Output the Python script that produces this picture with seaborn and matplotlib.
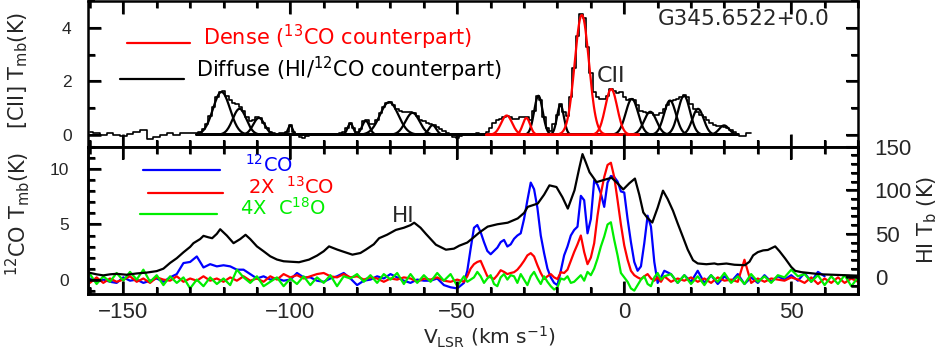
import numpy as np
import matplotlib
matplotlib.use("Agg")
import matplotlib.pyplot as plt
import seaborn as sns
from matplotlib.ticker import MultipleLocator

# ---- [CII] spectrum ----
cii_vel = list(range(-160, -128, 2)) + list(range(-128, 39))
cii_tmb = [0.1, 0.05, 0.0, 0.05, 0.0, -0.05, 0.02, 0.1, 0.18, -0.15,
           -0.1, 0.0, 0.05, -0.02, 0.05, 0.05,
           # -128 .. 38, 1 km/s
           0.05, 0.1, 0.2, 0.4, 0.7, 1.05, 1.4, 1.6, 1.62, 1.45,
           1.3, 1.2, 1.15, 1.05, 0.9, 0.65, 0.5, 0.55, 0.65, 0.62,
           0.45, 0.25, 0.1, 0.05, 0.0, 0.05, 0.05, 0.12, 0.38, 0.12,
           0.0, -0.08, -0.12, -0.05, 0.0, 0.0, 0.02, 0.0, 0.0, 0.0,
           0.0, 0.0, 0.02, 0.05, 0.1, 0.25, 0.45, 0.25, 0.1, 0.2,
           0.5, 0.55, 0.4, 0.4, 0.55, 0.8, 1.05, 1.2, 1.22, 1.1,
           0.95, 0.9, 0.85, 0.85, 0.85, 0.82, 0.7, 0.55, 0.5, 0.45,
           0.4, 0.38, 0.3, 0.2, 0.15, 0.05, 0.0, -0.1, -0.12, -0.05,
           0.0, -0.02, 0.0, 0.02, 0.05, 0.02, 0.0, 0.1, 0.25, 0.45,
           0.55, 0.6, 0.65, 0.7, 0.68, 0.6, 0.6, 0.65, 0.68, 0.65,
           0.55, 0.9, 1.45, 1.3, 0.65, 0.25, 0.15, 0.4, 0.75, 1.15,
           0.85, 0.7, 1.4, 2.5, 3.7, 4.5, 4.35, 3.3, 2.3, 1.6,
           1.4, 1.35, 1.35, 1.45, 1.7, 1.65, 1.55, 1.6, 1.4, 1.3,
           1.35, 1.3, 1.1, 0.9, 0.85, 0.8, 0.8, 0.75, 0.72, 0.8,
           0.95, 1.1, 1.25, 1.3, 1.35, 1.4, 1.48, 1.4, 1.15, 0.95,
           0.85, 0.75, 0.65, 0.55, 0.45, 0.38, 0.33, 0.32, 0.3, 0.25,
           0.18, 0.12, 0.02, -0.05, -0.03, 0.05, 0.07]

# Gaussian components fitted to [CII]: centre (km/s), peak (K), FWHM (km/s)
diffuse_center = [-120.6, -115.2, -109.4, -100.0, -82.0, -77.4, -70.4, -63.4, -57.4,
                  -25.7, -19.1, 2.3, 7.8, 13.7, 17.9, 22.1, 29.9]
diffuse_peak = [1.6, 0.97, 0.63, 0.35, 0.42, 0.52, 1.22, 0.82, 0.36,
                1.46, 1.12, 1.34, 0.86, 1.28, 1.46, 0.97, 0.35]
diffuse_fwhm = [6.0, 4.8, 4.0, 1.6, 2.0, 2.6, 6.5, 5.0, 2.6,
                3.0, 2.4, 4.4, 4.4, 4.2, 4.2, 4.0, 3.5]
dense_center = [-35.2, -29.3, -12.7, -3.9]
dense_peak = [0.72, 0.63, 4.48, 1.71]
dense_fwhm = [3.9, 2.6, 5.0, 4.2]

# ---- CO spectra ----
co_vel = list(range(-160, -48, 2)) + list(range(-48, 13)) + list(range(14, 71, 2))
co12 = [0.1, -0.2, 0.0, -0.2, -0.3, 0.2, -0.1, 0.0, -0.3, -0.1,
        0.1, -0.2, 0.2, 0.5, 1.5, 1.6, 2.1, 1.1, 1.4, 1.2,
        1.3, 1.2, 0.9, 0.9, 0.5, 0.1, 0.3, 0.0, 0.1, -0.1,
        0.0, 0.6, 0.2, 0.2, -0.1, -0.2, 0.1, 0.3, 0.6, 0.1,
        -0.5, -0.1, 0.0, 0.3, 0.1, 0.5, 0.2, -0.1, -0.3, 0.0,
        -0.1, -0.1, 0.1, -0.5, -0.7, -0.8,
        # -48 .. 12, 1 km/s
        -0.3, 0.8, 2.8, 4.7, 4.95, 4.3, 3.4, 2.6, 2.3, 2.6,
        2.9, 3.4, 3.6, 3.0, 3.2, 3.7, 4.0, 4.2, 5.5, 7.2,
        8.8, 8.2, 6.5, 4.0, 2.4, 1.0, 0.2, -0.3, -0.5, 0.8,
        2.2, 3.0, 4.0, 4.5, 4.8, 7.6, 7.2, 4.2, 5.5, 9.0,
        8.6, 7.8, 6.6, 8.8, 9.4, 9.3, 8.9, 8.0, 7.9, 5.5,
        3.4, 1.6, 0.8, 1.2, 3.3, 5.8, 4.8, 1.6, -0.3, 0.2,
        0.8,
        # 14 .. 60
        0.5, -0.3, 0.4, -0.2, 0.8, -0.3, 0.4, -0.4, 0.3, -0.2,
        0.5, -0.4, 0.2, -0.3, 0.4, -0.2, 0.3, 0.0, 0.4, -0.1,
        0.6, -0.2, 0.7, 0.3]
co13_x2 = [-0.3, 0.2, -0.3, 0.1, -0.2, 0.0, 0.3, -0.2, 0.1, -0.3,
           0.2, 0.0, -0.1, 0.3, -0.2, 0.1, -0.1, 0.3, -0.1, 0.1,
           -0.2, 0.2, -0.1, 0.3, -0.1, 0.1, -0.2, 0.3, 0.0, 0.5,
           0.2, 0.4, 0.1, 0.3, 0.5, 0.6, 0.3, 0.2, 0.5, 0.2,
           0.3, 0.0, 0.2, 0.1, -0.2, 0.1, 0.0, 0.2, 0.1, -0.2,
           0.1, 0.0, 0.2, -0.1, -0.2, 0.0,
           # -48 .. 12
           -0.2, 0.3, 1.0, 1.4, 1.6, 1.7, 1.0, 0.3, 0.2, 0.05,
           0.4, 0.85, 0.7, 0.5, 0.6, 0.67, 0.9, 1.27, 1.7, 2.2,
           2.4, 2.1, 1.3, 0.6, 0.05, 0.3, 0.5, 0.2, 0.05, 0.67,
           0.6, 0.9, 1.7, 2.5, 3.2, 4.0, 2.5, 1.4, 2.0, 3.3,
           5.8, 7.8, 9.3, 10.4, 10.6, 9.3, 7.2, 5.0, 3.1, 1.8,
           0.8, 0.4, 0.2, 0.05, 0.3, 0.5, 0.1, -0.1, 0.2, -0.2,
           0.3,
           # 14 .. 70
           -0.2, 0.1, -0.1, 0.2, -0.2, 0.1, -0.3, 0.2, -0.1, 0.0,
           -0.2, 1.8, -0.3, 0.1, -0.2, 0.1, 0.0, -0.1, 0.2, 0.0,
           -0.3, 0.2, -0.4, 0.1, -0.3, 0.2, -0.3, 0.1, -0.2]
c18o_x4 = [0.5, -0.4, 0.3, -0.2, 0.6, -0.1, 0.7, 0.0, 0.9, -0.2,
           0.4, -0.5, 0.3, -0.3, 0.2, -0.8, 0.0, -0.6, 0.2, -0.4,
           0.1, -0.5, 0.9, 0.2, -0.3, 0.3, -0.6, -0.2, 0.2, -0.6,
           0.1, -0.4, 0.3, -0.5, 0.2, -0.3, 0.4, -0.6, 0.3, 0.1,
           0.5, -0.2, 0.4, -0.3, 0.5, 0.0, 0.6, -0.4, 0.5, -0.3,
           0.4, -0.2, 0.6, -0.1, 0.5, -0.6,
           # -48 .. 12
           0.3, -0.2, 0.0, 0.2, 0.7, 0.3, -0.3, 0.1, 0.4, -0.4,
           -0.6, 0.2, 0.5, 0.0, 0.4, 0.3, -0.3, 0.5, 0.0, -0.5,
           0.3, 0.7, 0.1, -0.4, 0.3, -0.2, -0.6, -0.9, -0.7, 0.1,
           0.0, 0.3, -0.3, -0.2, 0.1, 0.4, -0.1, 0.7, 0.4, 1.0,
           1.9, 3.0, 3.9, 5.0, 5.2, 3.6, 2.2, 0.6, 0.2, -0.2,
           -0.8, -1.0, -0.5, 0.0, 0.3, -0.4, -0.6, 0.2, 0.6, 0.0,
           0.3,
           # 14 .. 70
           0.5, -0.3, 0.4, -0.4, 0.3, -0.5, 0.4, -0.2, 0.6, -0.3,
           0.3, -0.4, 0.5, -0.2, 0.3, -0.3, 0.4, 0.2, 0.9, 0.3,
           0.5, -0.2, 0.4, -0.5, 0.3, -0.4, 0.4, -0.6, 0.2]

# ---- HI spectrum (right axis) ----
hi_vel = [-161, -158, -156, -154, -152, -149, -146, -143, -140, -138,
          -136, -134, -132, -130, -129, -127, -126, -124.5, -123.4, -122,
          -121, -119, -117, -115, -113.4, -112, -110, -108, -106, -104,
          -102, -100, -97.4, -94.4, -92, -90, -88.4, -86, -84.4, -81.4,
          -79, -77.4, -75, -73.4, -71, -68.4, -66, -64, -62.9, -61,
          -59.4, -56.4, -53.4, -51, -49.4, -47, -45.4, -43.4, -40.9, -38,
          -34.9, -31.9, -30, -28.9, -25.9, -24, -22.4, -20.3, -18.5, -16.9,
          -14.9, -13.5, -12.5, -11.5, -10.4, -8.3, -6, -3.8, -2, -0.3,
          1.5, 3.2, 4.5, 5.7, 7, 8.4, 10, 11.6, 13, 14.6,
          16, 17.6, 19, 20.6, 22, 24.6, 27, 28, 30.6, 33,
          36.1, 37.5, 38.6, 40, 41.6, 43, 45.2, 46.5, 48.2, 50,
          51.2, 53, 56.6, 59, 62.6, 66, 70.1]
hi_tb = [6.0, 3.5, 2.3, 3.5, 4.1, 3.0, 4.5, 5.5, 7.2, 10.0,
         16.6, 22.0, 28.8, 35.0, 39.3, 44.0, 47.7, 46.0, 45.0, 50.0,
         55.3, 48.0, 39.3, 44.0, 48.9, 44.0, 35.6, 30.0, 24.2, 20.5,
         18.5, 18.0, 17.4, 20.4, 25.0, 30.0, 35.6, 32.0, 29.9, 26.1,
         28.0, 31.8, 38.0, 45.0, 49.0, 54.5, 57.0, 60.0, 62.8, 57.0,
         50.0, 37.5, 31.8, 33.0, 36.4, 40.0, 45.0, 51.5, 58.3, 61.0,
         62.8, 67.7, 74.0, 81.0, 84.8, 95.0, 105.7, 103.8, 92.0, 79.0,
         100.0, 125.0, 141.6, 132.0, 120.8, 109.4, 112.0, 114.5, 108.0, 101.0,
         108.0, 113.5, 95.0, 74.6, 68.0, 63.0, 80.0, 99.6, 90.0, 76.5,
         62.0, 46.1, 32.0, 19.7, 16.0, 15.1, 16.0, 15.0, 15.9, 14.5,
         14.0, 18.0, 25.3, 29.0, 31.0, 31.5, 35.6, 30.0, 21.6, 12.0,
         7.5, 6.0, 4.5, 3.5, 3.0, 2.5, 2.0]

GREEN = "#00ee00"

sns.set_theme(style="ticks")
plt.rcParams["font.family"] = ["DejaVu Sans"]
plt.rcParams["axes.linewidth"] = 1.8
plt.rcParams["axes.axisbelow"] = False
TICKFONT = "Liberation Sans"

fig = plt.figure(figsize=(9.41, 3.52), dpi=100)
ax_top = fig.add_axes([0.0938, 0.583, 0.818, 0.414])
ax_bot = fig.add_axes([0.0938, 0.165, 0.818, 0.418], sharex=ax_top)

# top panel: [CII] spectrum and its gaussian decomposition
sns.lineplot(x=cii_vel, y=cii_tmb, ax=ax_top, color="black", lw=1.2,
             drawstyle="steps-mid")
v_diff = np.linspace(-128, 34, 649)
for c, p, w in zip(diffuse_center, diffuse_peak, diffuse_fwhm):
    g = p * np.exp(-4 * np.log(2) * (v_diff - c) ** 2 / w ** 2)
    sns.lineplot(x=v_diff, y=g, ax=ax_top, color="black", lw=1.6)
v_dense = np.linspace(-41.3, 4.4, 184)
for c, p, w in zip(dense_center, dense_peak, dense_fwhm):
    g = p * np.exp(-4 * np.log(2) * (v_dense - c) ** 2 / w ** 2)
    sns.lineplot(x=v_dense, y=g, ax=ax_top, color="red", lw=1.6)
ax_top.set_xlabel("")
ax_top.set_ylabel("")

# bottom panel: CO isotopologues and HI
sns.lineplot(x=co_vel[:len(co12)], y=co12, ax=ax_bot, color="blue", lw=1.6)
sns.lineplot(x=co_vel, y=co13_x2, ax=ax_bot, color="red", lw=1.6)
sns.lineplot(x=co_vel, y=c18o_x4, ax=ax_bot, color=GREEN, lw=1.6)
ax_bot.set_xlabel("")
ax_bot.set_ylabel("")

ax_hi = ax_bot.twinx()
sns.lineplot(x=hi_vel, y=hi_tb, ax=ax_hi, color="black", lw=1.6)
ax_hi.set_ylabel("")

# hand-made legends and labels
ax_top.plot([0.050, 0.132], [0.710, 0.710], color="red", lw=1.6,
            transform=ax_top.transAxes)
ax_top.text(0.149, 0.698, r"Dense ($^{13}$CO counterpart)", color="red",
            fontsize=15, transform=ax_top.transAxes, va="baseline")
ax_top.plot([0.041, 0.124], [0.465, 0.465], color="black", lw=1.6,
            transform=ax_top.transAxes)
ax_top.text(0.140, 0.476, r"Diffuse (HI/$^{12}$CO counterpart)", color="black",
            fontsize=15, transform=ax_top.transAxes, va="baseline")
ax_top.text(0.661, 0.444, "CII", fontsize=16, transform=ax_top.transAxes,
            va="baseline")
ax_top.text(0.740, 0.839, "G345.6522+0.0", fontsize=15.5,
            transform=ax_top.transAxes, va="baseline")

ax_bot.plot([0.071, 0.171], [0.840, 0.840], color="blue", lw=1.6,
            transform=ax_bot.transAxes)
ax_bot.text(0.203, 0.828, r"$^{12}$CO", color="blue", fontsize=14,
            transform=ax_bot.transAxes, va="baseline")
ax_bot.plot([0.0775, 0.175], [0.688, 0.688], color="red", lw=1.6,
            transform=ax_bot.transAxes)
ax_bot.text(0.207, 0.680, r"2X  $^{13}$CO", color="red", fontsize=14,
            transform=ax_bot.transAxes, va="baseline")
ax_bot.plot([0.067, 0.167], [0.541, 0.541], color=GREEN, lw=1.6,
            transform=ax_bot.transAxes)
ax_bot.text(0.197, 0.538, r"4X  C$^{18}$O", color=GREEN, fontsize=14,
            transform=ax_bot.transAxes, va="baseline")
ax_bot.text(0.394, 0.491, "HI", fontsize=15.5, transform=ax_bot.transAxes,
            va="baseline")

fig.text(0.520, 0.022, r"V$_{\rm LSR}$ (km s$^{-1}$)", fontsize=14.5,
         ha="center", va="baseline")
fig.text(0.019, 0.80, r"[CII] T$_{\rm mb}$(K)", fontsize=15, rotation=90,
         ha="center", va="center")
fig.text(0.019, 0.392, r"$^{12}$CO T$_{\rm mb}$(K)", fontsize=15, rotation=90,
         ha="center", va="center")
fig.text(0.985, 0.375, r"HI T$_{\rm b}$ (K)", fontsize=15, rotation=90,
         ha="center", va="center")


def draw_ticks(ax, side, positions, length_px):
    # inward tick marks drawn as plain line segments (backs up the axis ticks)
    box = ax.get_position()
    w_px = box.width * fig.get_figwidth() * fig.dpi
    h_px = box.height * fig.get_figheight() * fig.dpi
    xs, ys = [], []
    if side in ("bottom", "top"):
        frac = length_px / h_px
        y0, y1 = (0.0, frac) if side == "bottom" else (1.0, 1.0 - frac)
        for p in positions:
            xs += [p, p, np.nan]
            ys += [y0, y1, np.nan]
        trans = ax.get_xaxis_transform()
    else:
        frac = length_px / w_px
        x0, x1 = (0.0, frac) if side == "left" else (1.0, 1.0 - frac)
        for p in positions:
            xs += [x0, x1, np.nan]
            ys += [p, p, np.nan]
        trans = ax.get_yaxis_transform()
    ax.plot(xs, ys, transform=trans, color="black", lw=1.8, clip_on=False,
            solid_capstyle="butt", zorder=10)


MAJ, MIN = 12.5, 7.0
x_major = [-150, -100, -50, 0, 50]
x_minor = [v for v in range(-160, 71, 10) if v % 50 != 0]
for side in ("bottom", "top"):
    draw_ticks(ax_top, side, x_major, MAJ)
    draw_ticks(ax_top, side, x_minor, MIN)
    draw_ticks(ax_bot, side, x_major, MAJ)
    draw_ticks(ax_bot, side, x_minor, MIN)
for side in ("left", "right"):
    draw_ticks(ax_top, side, [0, 2, 4], MAJ)
    draw_ticks(ax_top, side, [1, 3], MIN)
draw_ticks(ax_bot, "left", [0, 5, 10], MAJ)
draw_ticks(ax_bot, "left", [v for v in range(-1, 13) if v % 5 != 0], MIN)
draw_ticks(ax_hi, "right", [0, 50, 100, 150], MAJ)
draw_ticks(ax_hi, "right", [v for v in range(-10, 151, 10) if v % 50 != 0], MIN)

# limits and axis ticks last
ax_top.set_xlim(-160.5, 70)
ax_top.set_ylim(-0.45, 5.0)
ax_bot.set_ylim(-1.3, 12.05)
ax_hi.set_ylim(-19, 150)
ax_top.xaxis.set_major_locator(MultipleLocator(50))
ax_top.xaxis.set_minor_locator(MultipleLocator(10))
ax_top.yaxis.set_major_locator(MultipleLocator(2))
ax_top.yaxis.set_minor_locator(MultipleLocator(1))
ax_bot.yaxis.set_major_locator(MultipleLocator(5))
ax_bot.yaxis.set_minor_locator(MultipleLocator(1))
ax_hi.yaxis.set_major_locator(MultipleLocator(50))
ax_hi.yaxis.set_minor_locator(MultipleLocator(10))

ax_top.tick_params(which="both", direction="in", color="black", width=1.5,
                   top=True, right=True, labelbottom=False)
ax_bot.tick_params(which="both", direction="in", color="black", width=1.5,
                   top=True, bottom=True, left=True)
ax_hi.tick_params(which="both", direction="in", color="black", width=1.5)
for ax in (ax_top, ax_bot, ax_hi):
    ax.set_axisbelow(False)
    ax.tick_params(which="major", length=9)
    ax.tick_params(which="minor", length=5)
    for s in ax.spines.values():
        s.set_linewidth(1.8)
        s.set_color("black")
ax_top.tick_params(axis="y", labelsize=12.5, pad=12)
ax_bot.tick_params(axis="y", labelsize=12.5, pad=14)
ax_bot.tick_params(axis="x", labelsize=16, pad=6)
ax_hi.tick_params(axis="y", labelsize=16, pad=12)
for ax in (ax_top, ax_bot, ax_hi):
    for lab in ax.get_xticklabels() + ax.get_yticklabels():
        lab.set_fontfamily(TICKFONT)

fig.savefig("out.png", dpi=100)
